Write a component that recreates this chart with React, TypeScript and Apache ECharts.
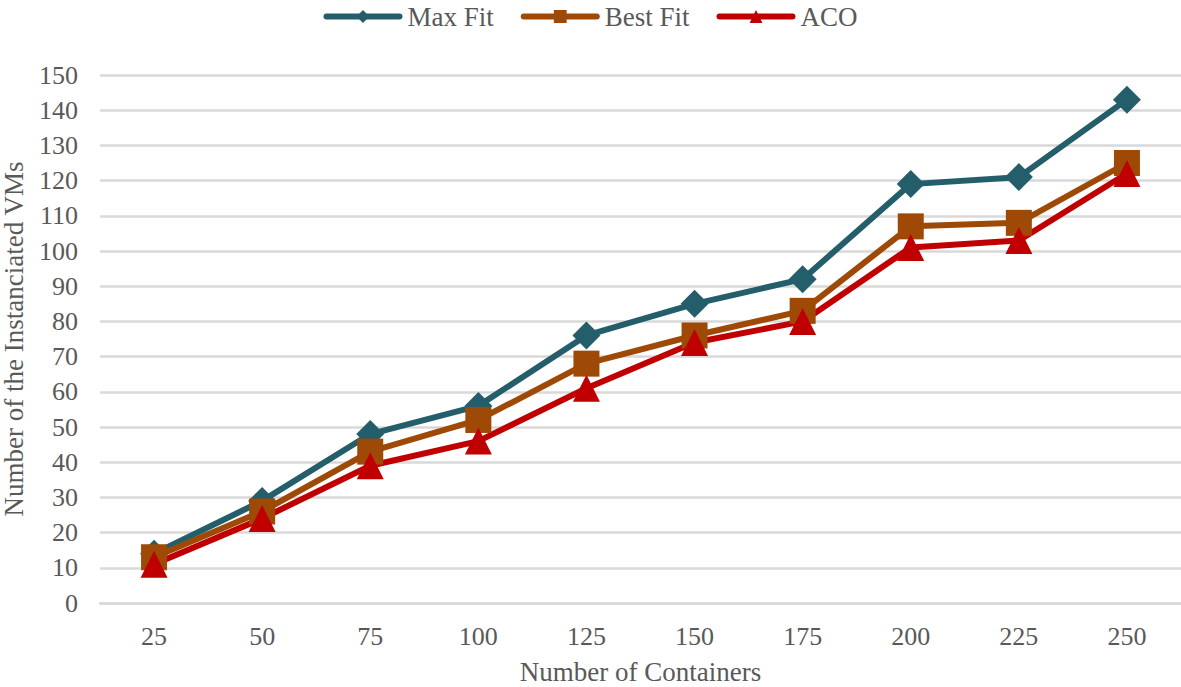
import React, { useEffect, useRef } from "react";
import * as echarts from "echarts";

const categories = ["25", "50", "75", "100", "125", "150", "175", "200", "225", "250"];
const maxFit = [14, 29, 48, 56, 76, 85, 92, 119, 121, 143];
const bestFit = [13, 26, 43, 52, 68, 76, 83, 107, 108, 125];
const aco = [11, 24, 39, 46, 61, 74, 80, 101, 103, 122];

const FONT = "Liberation Serif";
const TXT = "#595959";

export default function App() {
  const ref = useRef<HTMLDivElement>(null);
  useEffect(() => {
    const chart = echarts.init(ref.current!, undefined, { renderer: "svg" });
    const mk = (name: string, data: number[], color: string, symbol: string, size: number) => ({
      name,
      type: "line",
      data,
      symbol,
      symbolSize: size,
      lineStyle: { color, width: 6 },
      itemStyle: { color },
      z: 2,
    });
    chart.setOption({
      animation: false,
      backgroundColor: "#fff",
      textStyle: { fontFamily: FONT },
      legend: {
        top: -2,
        left: "center",
        itemWidth: 73,
        itemHeight: 16,
        itemGap: 27,
        lineStyle: { width: 6, cap: "round" },
        textStyle: { fontFamily: FONT, fontSize: 27, color: TXT, padding: [0, 0, 0, 3] },
        data: ["Max Fit", "Best Fit", "ACO"],
      },
      grid: { left: 100, right: 0, top: 75, bottom: 84, outerBoundsMode: "none", containLabel: false },
      xAxis: {
        type: "category",
        data: categories,
        boundaryGap: true,
        name: "Number of Containers",
        nameLocation: "middle",
        nameGap: 55,
        nameTextStyle: { fontFamily: FONT, fontSize: 27, color: TXT, lineHeight: 27 },
        axisLine: { lineStyle: { color: "#D9D9D9", width: 2.5 } },
        axisTick: { show: false },
        axisLabel: { fontFamily: FONT, fontSize: 26, color: TXT, margin: 20 },
      },
      yAxis: {
        type: "value",
        min: 0,
        max: 150,
        interval: 10,
        name: "Number of the Instanciated VMs",
        nameLocation: "middle",
        nameGap: 73,
        nameTextStyle: { fontFamily: FONT, fontSize: 27, color: TXT },
        axisLine: { show: false },
        axisTick: { show: false },
        axisLabel: { fontFamily: FONT, fontSize: 26, color: TXT, margin: 22 },
        splitLine: { lineStyle: { color: "#D9D9D9", width: 2.5 } },
      },
      series: [
        mk("Max Fit", maxFit, "#255E6B", "diamond", 28),
        mk("Best Fit", bestFit, "#9E4A06", "rect", 26),
        mk("ACO", aco, "#C00000", "triangle", 27),
      ],
    });
    return () => chart.dispose();
  }, []);
  return <div ref={ref} style={{ width: 1181, height: 687, position: "absolute", left: 0, top: 0 }} />;
}
